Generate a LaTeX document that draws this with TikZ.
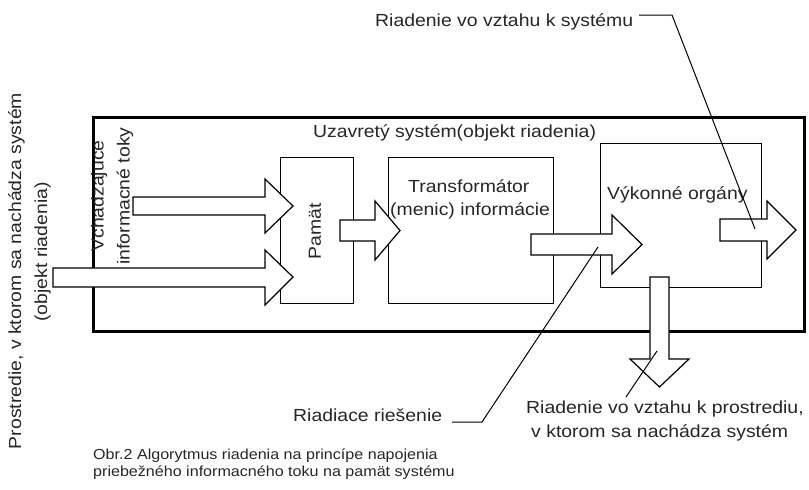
\documentclass[tikz,border=0pt]{standalone}
\usepackage{fontspec}
\setmainfont[FakeStretch=1.11]{Liberation Sans}
\begin{document}
\begin{tikzpicture}[x=1pt,y=-1pt,
  outerbox/.style={draw, line width=2.6pt, inner sep=0pt, anchor=north west},
  box/.style={draw, line width=1.3pt, inner sep=0pt, anchor=north west},
  barrow/.style={draw, fill=white, line width=1.2pt, line join=miter},
  leader/.style={draw, line width=1pt},
  lbl/.style={inner sep=0pt, anchor=base west, text=black!85, font=\fontsize{17.5}{25}\selectfont},
  vlbl/.style={inner sep=0pt, rotate=90, text=black!85, align=center, font=\fontsize{17.5}{26}\selectfont},
  captxt/.style={inner sep=0pt, anchor=base west, text=black!85, font=\fontsize{14.5}{18}\selectfont},
]
\useasboundingbox (0,0) rectangle (809,490);

% boxes
\node[outerbox, minimum width=711pt, minimum height=214pt] (sys) at (92,116) {};
\node[box, minimum width=73pt, minimum height=146pt] (pamat) at (280,157) {};
\node[box, minimum width=165pt, minimum height=146pt] (trans) at (388,157) {};
\node[box, minimum width=161pt, minimum height=144pt] (vyk) at (600,143) {};

% block arrows
\draw[barrow] (133,197) -- (265,197) -- (265,179) -- (293,206) -- (265,233) -- (265,215) -- (133,215) -- cycle;
\draw[barrow] (53,268) -- (265,268) -- (265,250) -- (293,277) -- (265,305) -- (265,287) -- (53,287) -- cycle;
\draw[barrow] (340,220) -- (375,220) -- (375,201) -- (400,230.5) -- (375,260) -- (375,241) -- (340,241) -- cycle;
\draw[barrow] (531,234) -- (612,234) -- (612,215) -- (642,244.5) -- (612,274) -- (612,255) -- (531,255) -- cycle;
\draw[barrow] (720,219) -- (767,219) -- (767,201) -- (796,230) -- (767,259) -- (767,241) -- (720,241) -- cycle;
\draw[barrow] (650,277) -- (650,359) -- (630,359) -- (659.5,387) -- (689,359) -- (669,359) -- (669,277) -- cycle;

% texts
\node[lbl] (tsys) at (313,137) {Uzavretý systém(objekt riadenia)};
\node[lbl] (ttr1) at (408,192) {Transformátor};
\node[lbl] (ttr2) at (390,215) {(menic) informácie};
\node[lbl] (tvyk) at (607,199) {Výkonné orgány};
\node[vlbl] (tpam) at (315,231) {Pamät};
\node[vlbl] (tvch) at (112,196) {Vchadzajuce\\informacné toky};
\node[vlbl] (tpr1) at (16.5,271) {Prostredie, v ktorom sa nachádza systém};
\node[vlbl] (tpr2) at (42.5,252) {(objekt riadenia)};
\node[lbl] (tsysr) at (375,26) {Riadenie vo vztahu k systému};
\node[lbl] (triad) at (293,421) {Riadiace riešenie};
\node[lbl] (tpro1) at (526,413) {Riadenie vo vztahu k prostrediu,};
\node[lbl] (tpro2) at (531,437) {v ktorom sa nachádza systém};
\node[captxt] (cap1) at (93,459) {Obr.2 Algorytmus riadenia na princípe napojenia};
\node[captxt] (cap2) at (93,476) {priebežného informacného toku na pamät systému};

% leaders
\coordinate (l1a) at (639,15);
\coordinate (l1b) at (672,15);
\coordinate (l1c) at (755,229);
\draw[leader] (l1a) -- (l1b) -- (l1c);
\coordinate (l2a) at (452,422);
\coordinate (l2b) at (482,422);
\coordinate (l2c) at (598,247);
\draw[leader] (l2a) -- (l2b) -- (l2c);
\coordinate (l3a) at (626,397);
\coordinate (l3b) at (657,351);
\draw[leader] (l3a) -- (l3b);
\end{tikzpicture}
\end{document}
